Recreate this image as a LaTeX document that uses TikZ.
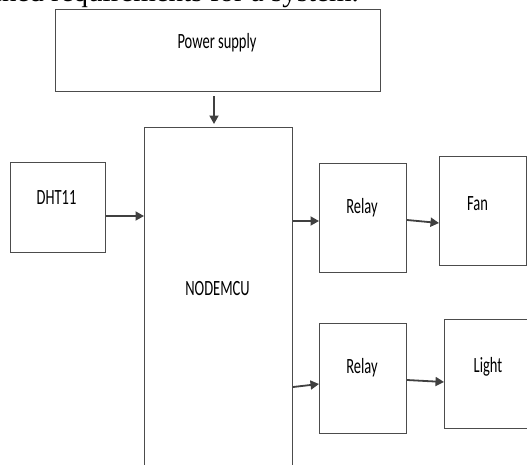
\documentclass[tikz,border=0pt]{standalone}
\usepackage{fontspec}
\setmainfont{Carlito}
\newfontfamily\capserif{Liberation Serif}
\usetikzlibrary{arrows.meta,calc}
\begin{document}
\begin{tikzpicture}[x=1pt,y=-1pt,
  blk/.style={draw=black!70,line width=1.1pt,inner sep=0pt,anchor=north west},
  lbl/.style={inner sep=0pt,anchor=base,font=\fontsize{14.5}{16}\selectfont},
  arr/.style={-{Triangle[length=8.5pt,width=9pt]},line width=1.8pt,draw=black!75,fill=black}]
\clip (0,0) rectangle (527,464);
\fill[white] (0,0) rectangle (527,464);
% cut-off caption line at the very top
\node[inner sep=0pt,anchor=base east,font=\capserif\fontsize{29}{32}\selectfont] (cap) at (359,1.5) {defined requirements for a system.};
% boxes
\node[blk,minimum width=325pt,minimum height=82pt] (ps) at (55,9) {};
\node[blk,minimum width=148pt,minimum height=360pt] (mcu) at (144,127) {};
\node[blk,minimum width=95pt,minimum height=90pt] (dht) at (10,162) {};
\node[blk,minimum width=87pt,minimum height=109pt] (r1) at (319,163) {};
\node[blk,minimum width=87pt,minimum height=109pt] (fan) at (439,156) {};
\node[blk,minimum width=87pt,minimum height=110pt] (r2) at (319,323) {};
\node[blk,minimum width=100pt,minimum height=109pt] (light) at (444,319) {};
% labels
\node[lbl] (tps) at (217,48) {\scalebox{1}[1.5]{Power supply}};
\node[lbl] (tdht) at (56.5,204) {\scalebox{1}[1.5]{DHT11}};
\node[lbl] (tmcu) at (217.5,295) {\scalebox{1}[1.5]{NODEMCU}};
\node[lbl] (tr1) at (362,213) {\scalebox{1}[1.5]{Relay}};
\node[lbl] (tfan) at (477.5,210) {\scalebox{1}[1.5]{Fan}};
\node[lbl] (tr2) at (362,373) {\scalebox{1}[1.5]{Relay}};
\node[lbl] (tlight) at (488,372) {\scalebox{1}[1.5]{Light}};
% connectors
\draw[arr] ([yshift=-4pt]ps.south -| 214,0) -- ([yshift=3pt]mcu.north -| 214,0);
\draw[arr] (dht.east |- 0,216) -- (mcu.west |- 0,216);
\draw[arr] (mcu.east |- 0,221) -- (r1.west |- 0,221);
\draw[arr] (r1.east |- 0,220) -- (fan.west |- 0,223);
\draw[arr] (mcu.east |- 0,387) -- (r2.west |- 0,384);
\draw[arr] (r2.east |- 0,380) -- (light.west |- 0,382);
\end{tikzpicture}
\end{document}
